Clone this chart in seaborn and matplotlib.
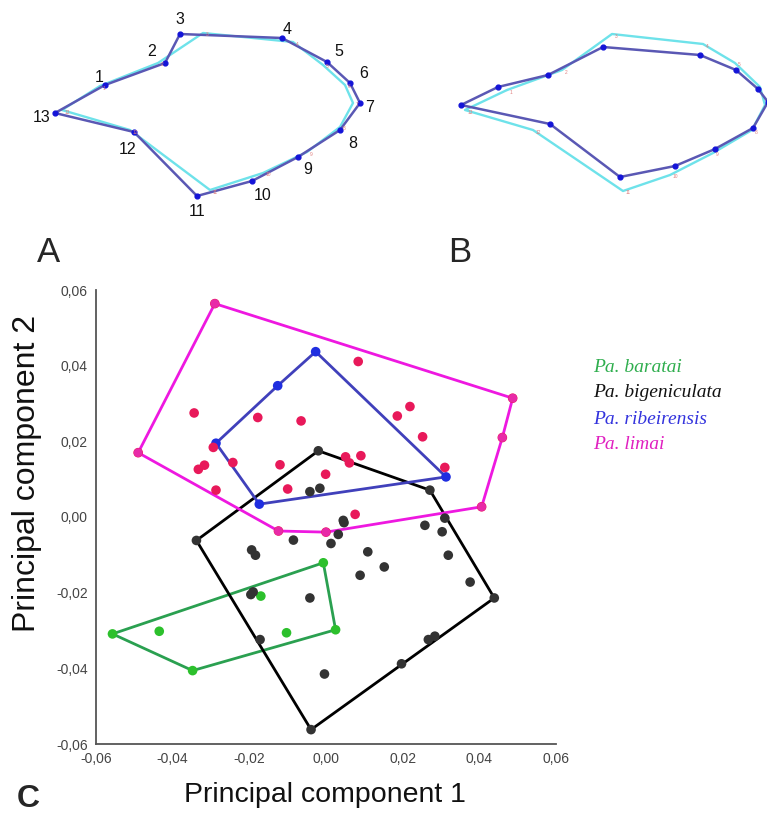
import numpy as np
import pandas as pd
import seaborn as sns
import matplotlib.pyplot as plt
from matplotlib.ticker import FuncFormatter

# landmark outlines for panels A and B (image pixel units, y downwards)
landmark_ids = [str(i) for i in range(1, 14)]
a_spec_x = [105, 165, 180, 282, 327, 350, 360, 340, 298, 252, 197, 134, 55]
a_spec_y = [85, 63, 34, 38, 62, 83, 103, 130, 157, 181, 196, 132, 113]
a_cons_x = [100, 158, 203, 293, 323, 345, 353, 340, 307, 263, 210, 130, 62]
a_cons_y = [86, 63, 33, 42, 65, 85, 103, 127, 152, 173, 190, 130, 110]
a_label_x = [99, 152, 180, 287, 339, 364, 370, 353, 308, 263, 197, 128, 42]
a_label_y = [77, 51, 19, 29, 52, 74, 107, 143, 169, 196, 212, 150, 117]

b_spec_x = [498, 548, 603, 700, 736, 758, 768, 753, 715, 675, 620, 550, 461]
b_spec_y = [87, 75, 47, 55, 70, 89, 102, 128, 149, 166, 177, 124, 105]
b_cons_x = [507, 562, 612, 703, 735, 760, 765, 752, 713, 670, 623, 533, 465]
b_cons_y = [90, 70, 34, 44, 63, 87, 105, 130, 153, 175, 191, 130, 110]

# PCA scores (panel C)
baratai_pc1 = [-0.0007, 0.0025, -0.0348, -0.0557, -0.0435, -0.0170, -0.0103]
baratai_pc2 = [-0.0121, -0.0298, -0.0406, -0.0309, -0.0302, -0.0209, -0.0306]

bigen_pc1 = [-0.0020, 0.0271, 0.0439, -0.0039, -0.0338, -0.0042, -0.0016, 0.0045,
             -0.0085, 0.0013, 0.0032, 0.0047, -0.0194, -0.0184, -0.0196, -0.0190,
             -0.0042, -0.0172, -0.0004, 0.0109, 0.0089, 0.0152, 0.0258, 0.0303,
             0.0310, 0.0319, 0.0376, 0.0267, 0.0284, 0.0197]
bigen_pc2 = [0.0175, 0.0071, -0.0214, -0.0562, -0.0062, 0.0067, 0.0076, -0.0009,
             -0.0061, -0.0070, -0.0046, -0.0015, -0.0087, -0.0101, -0.0205, -0.0198,
             -0.0214, -0.0324, -0.0415, -0.0092, -0.0154, -0.0132, -0.0022, -0.0039,
             -0.0003, -0.0101, -0.0172, -0.0324, -0.0315, -0.0388]

ribei_pc1 = [-0.0027, -0.0126, -0.0287, -0.0174, 0.0313]
ribei_pc2 = [0.0437, 0.0347, 0.0195, 0.0034, 0.0106]

limai_pc1 = [-0.0290, 0.0487, 0.0460, 0.0406, 0.0000, -0.0124, -0.0490, 0.0084,
             -0.0344, -0.0178, -0.0065, -0.0294, -0.0333, -0.0317, -0.0243, -0.0120,
             -0.0287, -0.0100, -0.0001, 0.0051, 0.0061, 0.0091, 0.0076, 0.0219,
             0.0186, 0.0252, 0.0310]
limai_pc2 = [0.0564, 0.0314, 0.0210, 0.0027, -0.0040, -0.0037, 0.0170, 0.0411,
             0.0275, 0.0263, 0.0254, 0.0184, 0.0126, 0.0137, 0.0144, 0.0138,
             0.0071, 0.0074, 0.0113, 0.0159, 0.0143, 0.0162, 0.0007, 0.0292,
             0.0267, 0.0212, 0.0131]

species = ['Pa. baratai', 'Pa. bigeniculata', 'Pa. ribeirensis', 'Pa. limai']
point_colors = ['#2cc02c', '#333333', '#1f2ee0', '#e8195a']
line_colors = ['#2aa050', '#000000', '#4040bb', '#ee18e0']
text_colors = ['#2fae4e', '#111111', '#3333dd', '#e020c0']


def convex_hull(xs, ys):
    pts = sorted(set(zip(xs, ys)))

    def cross(o, a, b):
        return (a[0] - o[0]) * (b[1] - o[1]) - (a[1] - o[1]) * (b[0] - o[0])

    lower, upper = [], []
    for p in pts:
        while len(lower) >= 2 and cross(lower[-2], lower[-1], p) <= 0:
            lower.pop()
        lower.append(p)
    for p in reversed(pts):
        while len(upper) >= 2 and cross(upper[-2], upper[-1], p) <= 0:
            upper.pop()
        upper.append(p)
    hull = lower[:-1] + upper[:-1]
    hull.append(hull[0])
    return np.array(hull)


sns.set_style('white')
plt.rcParams['font.family'] = ['Liberation Sans', 'DejaVu Sans']

fig = plt.figure(figsize=(7.67, 8.16), dpi=100)

# panels A and B: landmark outlines
ax_top = fig.add_axes([0, 1 - 230 / 816, 1, 230 / 816])
ax_top.set_xlim(0, 767)
ax_top.set_ylim(230, 0)
ax_top.axis('off')

for cx, cy, sx, sy in [(a_cons_x, a_cons_y, a_spec_x, a_spec_y),
                       (b_cons_x, b_cons_y, b_spec_x, b_spec_y)]:
    ax_top.plot(cx + cx[:1], cy + cy[:1], color='#6ee2ea', lw=1.7, zorder=1)
    ax_top.plot(sx + sx[:1], sy + sy[:1], color='#5a58b4', lw=1.8, zorder=2)
    ax_top.scatter(sx, sy, s=12, color='#1414d8', zorder=3)
    for lab, x, y in zip(landmark_ids, cx, cy):
        # tiny red landmark numbers; skip the ones that fall off the right edge
        if x + 8 < 767:
            ax_top.text(x + 3, y + 2, lab, fontsize=3.5, color='#e08080', zorder=4,
                        ha='left', va='center')

for lab, x, y in zip(landmark_ids, a_label_x, a_label_y):
    ax_top.text(x, y, lab, fontsize=11.5, ha='center', va='center', color='#111111')

fig.text(48 / 767, 1 - 252 / 816, 'A', fontsize=25, ha='center', va='center')
fig.text(460 / 767, 1 - 252 / 816, 'B', fontsize=25, ha='center', va='center')
fig.text(28 / 767, 1 - 799 / 816, 'C', fontsize=23, fontweight='bold',
         ha='center', va='center')

# panel C: PCA scatter with convex hulls
df = pd.concat([
    pd.DataFrame({'pc1': baratai_pc1, 'pc2': baratai_pc2, 'species': species[0]}),
    pd.DataFrame({'pc1': bigen_pc1, 'pc2': bigen_pc2, 'species': species[1]}),
    pd.DataFrame({'pc1': ribei_pc1, 'pc2': ribei_pc2, 'species': species[2]}),
    pd.DataFrame({'pc1': limai_pc1, 'pc2': limai_pc2, 'species': species[3]}),
], ignore_index=True)

ax = fig.add_axes([96 / 767, 72 / 816, 460 / 767, 454 / 816])

for sp, lc in zip(species, line_colors):
    sub = df[df['species'] == sp]
    hull = convex_hull(sub['pc1'], sub['pc2'])
    ax.plot(hull[:, 0], hull[:, 1], color=lc, lw=2.0, zorder=2)

sns.scatterplot(data=df, x='pc1', y='pc2', hue='species', hue_order=species,
                palette=point_colors, s=48, edgecolor='none', legend=False,
                ax=ax, zorder=3)

# limai hull vertices look more magenta in the original
limai_hull = convex_hull(limai_pc1, limai_pc2)
ax.scatter(limai_hull[:-1, 0], limai_hull[:-1, 1], s=40, color='#e82aa8',
           edgecolor='none', zorder=4)

ax.set_xlim(-0.06, 0.06)
ax.set_ylim(-0.06, 0.06)
ticks = [-0.06, -0.04, -0.02, 0.0, 0.02, 0.04, 0.06]
ax.set_xticks(ticks)
ax.set_yticks(ticks)
fmt = FuncFormatter(lambda v, pos: f'{v:.2f}'.replace('.', ','))
ax.xaxis.set_major_formatter(fmt)
ax.yaxis.set_major_formatter(fmt)
ax.tick_params(direction='out', length=4, width=1, colors='#555555',
               labelsize=10, labelcolor='#444444', pad=2)
for side in ['top', 'right']:
    ax.spines[side].set_visible(False)
for side in ['left', 'bottom']:
    ax.spines[side].set_color('#555555')
    ax.spines[side].set_linewidth(1.3)
ax.set_xlabel('')
ax.set_ylabel('')

fig.text(325 / 767, 1 - 795 / 816, 'Principal component 1', fontsize=20.5,
         ha='center', va='center', color='#111111')
fig.text(27 / 767, 1 - 473 / 816, 'Principal component 2', fontsize=23,
         ha='center', va='center', rotation=90, color='#111111')

legend_y = [368, 392, 420, 445]
for sp, tc, y in zip(species, text_colors, legend_y):
    fig.text(593 / 767, 1 - y / 816, sp, fontsize=14, color=tc, ha='left',
             va='center', family=['Liberation Serif', 'DejaVu Serif'], style='italic')

fig.savefig('out.png', dpi=100)
plt.close(fig)
